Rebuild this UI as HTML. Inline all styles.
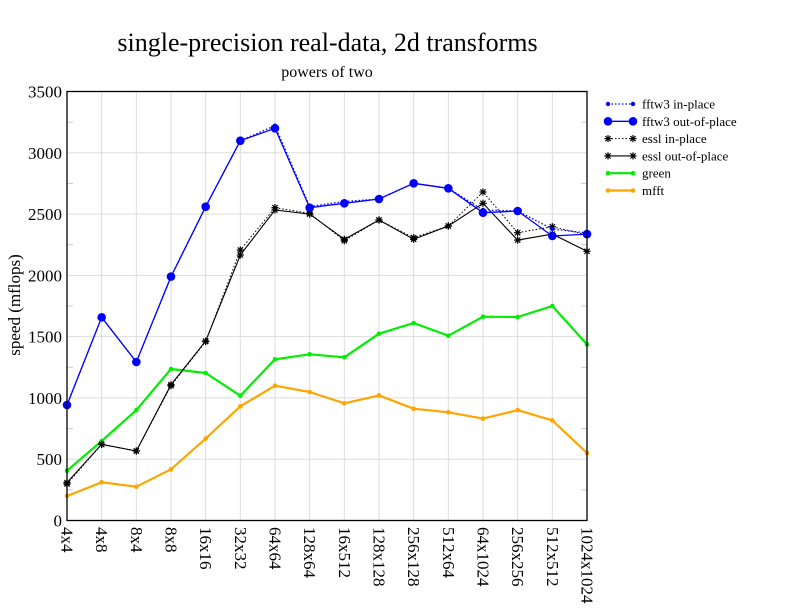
<!DOCTYPE html>
<html><head><meta charset="utf-8"><style>
html,body{margin:0;padding:0;background:#fff;}
svg{display:block;font-family:"Liberation Serif","DejaVu Serif",serif;}
text{font-family:"Liberation Serif","DejaVu Serif",serif;fill:#000;}
</style></head><body>
<svg width="792" height="612" viewBox="0 0 792 612" xmlns="http://www.w3.org/2000/svg" font-family="Liberation Serif, DejaVu Serif, serif">
<defs>
<g id="st" stroke="#000" stroke-width="1.2" fill="none">
<line x1="-3.6" y1="0" x2="3.6" y2="0"/><line x1="0" y1="-3.6" x2="0" y2="3.6"/>
<line x1="-2.6" y1="-2.6" x2="2.6" y2="2.6"/><line x1="-2.6" y1="2.6" x2="2.6" y2="-2.6"/>
</g>
</defs>
<rect width="792" height="612" fill="#fff"/>
<text x="327.5" y="51" font-size="26" text-anchor="middle" font-family="Liberation Serif, serif">single-precision real-data, 2d transforms</text>
<text x="327" y="77" font-size="16" text-anchor="middle" font-family="Liberation Serif, serif">powers of two</text>

<!-- grid -->
<g stroke="#dddddd" stroke-width="1">
<line x1="67" y1="459.2" x2="587" y2="459.2"/>
<line x1="67" y1="397.9" x2="587" y2="397.9"/>
<line x1="67" y1="336.6" x2="587" y2="336.6"/>
<line x1="67" y1="275.4" x2="587" y2="275.4"/>
<line x1="67" y1="214.1" x2="587" y2="214.1"/>
<line x1="67" y1="152.8" x2="587" y2="152.8"/>
<line x1="101.67" y1="91.5" x2="101.67" y2="520.5"/>
<line x1="136.33" y1="91.5" x2="136.33" y2="520.5"/>
<line x1="171" y1="91.5" x2="171" y2="520.5"/>
<line x1="205.67" y1="91.5" x2="205.67" y2="520.5"/>
<line x1="240.33" y1="91.5" x2="240.33" y2="520.5"/>
<line x1="275" y1="91.5" x2="275" y2="520.5"/>
<line x1="309.67" y1="91.5" x2="309.67" y2="520.5"/>
<line x1="344.33" y1="91.5" x2="344.33" y2="520.5"/>
<line x1="379" y1="91.5" x2="379" y2="520.5"/>
<line x1="413.67" y1="91.5" x2="413.67" y2="520.5"/>
<line x1="448.33" y1="91.5" x2="448.33" y2="520.5"/>
<line x1="483" y1="91.5" x2="483" y2="520.5"/>
<line x1="517.67" y1="91.5" x2="517.67" y2="520.5"/>
<line x1="552.33" y1="91.5" x2="552.33" y2="520.5"/>
</g>
<!-- minor ticks -->
<g stroke="#cccccc" stroke-width="1">
<line x1="67" y1="489.9" x2="73" y2="489.9"/><line x1="581" y1="489.9" x2="587" y2="489.9"/>
<line x1="67" y1="428.6" x2="73" y2="428.6"/><line x1="581" y1="428.6" x2="587" y2="428.6"/>
<line x1="67" y1="367.3" x2="73" y2="367.3"/><line x1="581" y1="367.3" x2="587" y2="367.3"/>
<line x1="67" y1="306.0" x2="73" y2="306.0"/><line x1="581" y1="306.0" x2="587" y2="306.0"/>
<line x1="67" y1="244.7" x2="73" y2="244.7"/><line x1="581" y1="244.7" x2="587" y2="244.7"/>
<line x1="67" y1="183.4" x2="73" y2="183.4"/><line x1="581" y1="183.4" x2="587" y2="183.4"/>
<line x1="67" y1="122.2" x2="73" y2="122.2"/><line x1="581" y1="122.2" x2="587" y2="122.2"/>
</g>

<!-- y tick labels -->
<g font-size="17" text-anchor="end" font-family="Liberation Serif, serif">
<text x="62" y="526.5">0</text>
<text x="62" y="465.2">500</text>
<text x="62" y="403.9">1000</text>
<text x="62" y="342.6">1500</text>
<text x="62" y="281.4">2000</text>
<text x="62" y="220.1">2500</text>
<text x="62" y="158.8">3000</text>
<text x="62" y="97.5">3500</text>
</g>
<text transform="translate(20,305) rotate(-90)" font-size="17" text-anchor="middle" font-family="Liberation Serif, serif">speed (mflops)</text>

<!-- x tick labels -->
<g font-size="17" font-family="Liberation Serif, serif">
<text transform="translate(61.5,527) rotate(90)">4x4</text>
<text transform="translate(96.2,527) rotate(90)">4x8</text>
<text transform="translate(130.8,527) rotate(90)">8x4</text>
<text transform="translate(165.5,527) rotate(90)">8x8</text>
<text transform="translate(200.2,527) rotate(90)">16x16</text>
<text transform="translate(234.8,527) rotate(90)">32x32</text>
<text transform="translate(269.5,527) rotate(90)">64x64</text>
<text transform="translate(304.2,527) rotate(90)">128x64</text>
<text transform="translate(338.8,527) rotate(90)">16x512</text>
<text transform="translate(373.5,527) rotate(90)">128x128</text>
<text transform="translate(408.2,527) rotate(90)">256x128</text>
<text transform="translate(442.8,527) rotate(90)">512x64</text>
<text transform="translate(477.5,527) rotate(90)">64x1024</text>
<text transform="translate(512.2,527) rotate(90)">256x256</text>
<text transform="translate(546.8,527) rotate(90)">512x512</text>
<text transform="translate(581.5,527) rotate(90)">1024x1024</text>
</g>

<!-- mfft -->
<polyline fill="none" stroke="#ffa500" stroke-width="2.2" stroke-linejoin="round" points="67,496.0 101.67,482.3 136.33,486.7 171,469.3 205.67,438.6 240.33,406.3 275,385.7 309.67,392.0 344.33,403.3 379,395.4 413.67,408.7 448.33,412.3 483,418.6 517.67,410.1 552.33,420.4 587,453.0"/>
<g fill="#ffa500">
<circle cx="67" cy="496.0" r="2.3"/><circle cx="101.67" cy="482.3" r="2.3"/><circle cx="136.33" cy="486.7" r="2.3"/><circle cx="171" cy="469.3" r="2.3"/><circle cx="205.67" cy="438.6" r="2.3"/><circle cx="240.33" cy="406.3" r="2.3"/><circle cx="275" cy="385.7" r="2.3"/><circle cx="309.67" cy="392.0" r="2.3"/><circle cx="344.33" cy="403.3" r="2.3"/><circle cx="379" cy="395.4" r="2.3"/><circle cx="413.67" cy="408.7" r="2.3"/><circle cx="448.33" cy="412.3" r="2.3"/><circle cx="483" cy="418.6" r="2.3"/><circle cx="517.67" cy="410.1" r="2.3"/><circle cx="552.33" cy="420.4" r="2.3"/><circle cx="587" cy="453.0" r="2.3"/>
</g>

<!-- green -->
<polyline fill="none" stroke="#00ee00" stroke-width="2.2" stroke-linejoin="round" points="67,470.7 101.67,441.0 136.33,410.1 171,369.0 205.67,373.0 240.33,395.7 275,359.3 309.67,354.3 344.33,357.3 379,333.7 413.67,323.0 448.33,335.7 483,316.7 517.67,317.0 552.33,306.0 587,344.4"/>
<g fill="#00ee00">
<circle cx="67" cy="470.7" r="2.3"/><circle cx="101.67" cy="441.0" r="2.3"/><circle cx="136.33" cy="410.1" r="2.3"/><circle cx="171" cy="369.0" r="2.3"/><circle cx="205.67" cy="373.0" r="2.3"/><circle cx="240.33" cy="395.7" r="2.3"/><circle cx="275" cy="359.3" r="2.3"/><circle cx="309.67" cy="354.3" r="2.3"/><circle cx="344.33" cy="357.3" r="2.3"/><circle cx="379" cy="333.7" r="2.3"/><circle cx="413.67" cy="323.0" r="2.3"/><circle cx="448.33" cy="335.7" r="2.3"/><circle cx="483" cy="316.7" r="2.3"/><circle cx="517.67" cy="317.0" r="2.3"/><circle cx="552.33" cy="306.0" r="2.3"/><circle cx="587" cy="344.4" r="2.3"/>
</g>

<!-- essl in-place (dotted) -->
<polyline fill="none" stroke="#000" stroke-width="1" stroke-dasharray="1.5,2" points="67,484.0 101.67,444.3 136.33,451.0 171,385.7 205.67,341.6 240.33,250.0 275,207.7 309.67,213.3 344.33,240.7 379,220.0 413.67,237.6 448.33,226.0 483,192.0 517.67,232.7 552.33,226.7 587,234.9"/>
<g>
<use href="#st" x="67" y="484.0"/><use href="#st" x="101.67" y="444.3"/><use href="#st" x="136.33" y="451.0"/><use href="#st" x="171" y="385.7"/><use href="#st" x="205.67" y="341.6"/><use href="#st" x="240.33" y="250.0"/><use href="#st" x="275" y="207.7"/><use href="#st" x="309.67" y="213.3"/><use href="#st" x="344.33" y="240.7"/><use href="#st" x="379" y="220.0"/><use href="#st" x="413.67" y="237.6"/><use href="#st" x="448.33" y="226.0"/><use href="#st" x="483" y="192.0"/><use href="#st" x="517.67" y="232.7"/><use href="#st" x="552.33" y="226.7"/><use href="#st" x="587" y="234.9"/>
</g>

<!-- essl out-of-place -->
<polyline fill="none" stroke="#000" stroke-width="1.1" points="67,482.6 101.67,444.3 136.33,451.0 171,384.7 205.67,341.1 240.33,255.0 275,210.0 309.67,214.1 344.33,239.3 379,220.0 413.67,239.3 448.33,226.0 483,203.3 517.67,240.1 552.33,234.1 587,251.3"/>
<g>
<use href="#st" x="67" y="482.6"/><use href="#st" x="101.67" y="444.3"/><use href="#st" x="136.33" y="451.0"/><use href="#st" x="171" y="384.7"/><use href="#st" x="205.67" y="341.1"/><use href="#st" x="240.33" y="255.0"/><use href="#st" x="275" y="210.0"/><use href="#st" x="309.67" y="214.1"/><use href="#st" x="344.33" y="239.3"/><use href="#st" x="379" y="220.0"/><use href="#st" x="413.67" y="239.3"/><use href="#st" x="448.33" y="226.0"/><use href="#st" x="483" y="203.3"/><use href="#st" x="517.67" y="240.1"/><use href="#st" x="552.33" y="234.1"/><use href="#st" x="587" y="251.3"/>
</g>

<!-- fftw3 out-of-place -->
<polyline fill="none" stroke="#0000ff" stroke-width="1.3" points="67,405.0 101.67,317.3 136.33,362.0 171,276.6 205.67,206.7 240.33,140.7 275,128.3 309.67,207.7 344.33,203.3 379,199.0 413.67,183.3 448.33,188.3 483,212.7 517.67,211.0 552.33,236.0 587,234.1"/>
<g fill="#0000ff">
<circle cx="67" cy="405.0" r="4.3"/><circle cx="101.67" cy="317.3" r="4.3"/><circle cx="136.33" cy="362.0" r="4.3"/><circle cx="171" cy="276.6" r="4.3"/><circle cx="205.67" cy="206.7" r="4.3"/><circle cx="240.33" cy="140.7" r="4.3"/><circle cx="275" cy="128.3" r="4.3"/><circle cx="309.67" cy="207.7" r="4.3"/><circle cx="344.33" cy="203.3" r="4.3"/><circle cx="379" cy="199.0" r="4.3"/><circle cx="413.67" cy="183.3" r="4.3"/><circle cx="448.33" cy="188.3" r="4.3"/><circle cx="483" cy="212.7" r="4.3"/><circle cx="517.67" cy="211.0" r="4.3"/><circle cx="552.33" cy="236.0" r="4.3"/><circle cx="587" cy="234.1" r="4.3"/>
</g>

<!-- fftw3 in-place (dotted) -->
<polyline fill="none" stroke="#0000ff" stroke-width="1.3" stroke-dasharray="1.5,2" points="67,405.0 101.67,317.3 136.33,362.0 171,276.6 205.67,206.7 240.33,140.7 275,125.7 309.67,206.5 344.33,201.5 379,199.0 413.67,183.3 448.33,188.3 483,210.0 517.67,211.0 552.33,229.0 587,233.0"/>
<g fill="#0000ff">
<circle cx="67" cy="405.0" r="2.2"/><circle cx="101.67" cy="317.3" r="2.2"/><circle cx="136.33" cy="362.0" r="2.2"/><circle cx="171" cy="276.6" r="2.2"/><circle cx="205.67" cy="206.7" r="2.2"/><circle cx="240.33" cy="140.7" r="2.2"/><circle cx="275" cy="125.7" r="2.2"/><circle cx="309.67" cy="206.5" r="2.2"/><circle cx="344.33" cy="201.5" r="2.2"/><circle cx="379" cy="199.0" r="2.2"/><circle cx="413.67" cy="183.3" r="2.2"/><circle cx="448.33" cy="188.3" r="2.2"/><circle cx="483" cy="210.0" r="2.2"/><circle cx="517.67" cy="211.0" r="2.2"/><circle cx="552.33" cy="229.0" r="2.2"/><circle cx="587" cy="233.0" r="2.2"/>
</g>

<!-- axes box -->
<rect x="67" y="91.5" width="520" height="429" fill="none" stroke="#000" stroke-width="1.3"/>

<!-- legend -->
<g font-size="13" font-family="Liberation Serif, serif">
<line x1="608" y1="104" x2="633" y2="104" stroke="#0000ff" stroke-width="1.3" stroke-dasharray="1.5,2"/>
<circle cx="608" cy="104" r="2.2" fill="#0000ff"/><circle cx="633" cy="104" r="2.2" fill="#0000ff"/>
<text x="642" y="108.5">fftw3 in-place</text>

<line x1="608" y1="121.3" x2="633" y2="121.3" stroke="#0000ff" stroke-width="1.3"/>
<circle cx="608" cy="121.3" r="4.3" fill="#0000ff"/><circle cx="633" cy="121.3" r="4.3" fill="#0000ff"/>
<text x="642" y="125.8">fftw3 out-of-place</text>

<line x1="608" y1="138.6" x2="633" y2="138.6" stroke="#000" stroke-width="1" stroke-dasharray="1.5,2"/>
<use href="#st" x="608" y="138.6"/><use href="#st" x="633" y="138.6"/>
<text x="642" y="143.1">essl in-place</text>

<line x1="608" y1="155.9" x2="633" y2="155.9" stroke="#000" stroke-width="1.1"/>
<use href="#st" x="608" y="155.9"/><use href="#st" x="633" y="155.9"/>
<text x="642" y="160.4">essl out-of-place</text>

<line x1="608" y1="173.2" x2="633" y2="173.2" stroke="#00ee00" stroke-width="2.2"/>
<circle cx="608" cy="173.2" r="2.3" fill="#00ee00"/><circle cx="633" cy="173.2" r="2.3" fill="#00ee00"/>
<text x="642" y="177.7">green</text>

<line x1="608" y1="190.5" x2="633" y2="190.5" stroke="#ffa500" stroke-width="2.2"/>
<circle cx="608" cy="190.5" r="2.3" fill="#ffa500"/><circle cx="633" cy="190.5" r="2.3" fill="#ffa500"/>
<text x="642" y="195">mfft</text>
</g>
</svg>
</body></html>
